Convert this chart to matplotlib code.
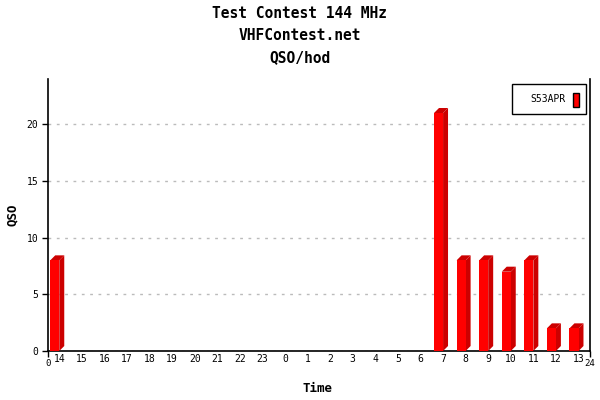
import matplotlib
matplotlib.use('Agg')
import matplotlib.pyplot as plt
import matplotlib.patches as patches
import numpy as np

plt.rcParams['font.family'] = ['DejaVu Sans Mono']

# data
hours = ['14', '15', '16', '17', '18', '19', '20', '21', '22', '23',
         '0', '1', '2', '3', '4', '5', '6', '7', '8', '9', '10', '11', '12', '13']
qso = [8, 0, 0, 0, 0, 0, 0, 0, 0, 0,
       0, 0, 0, 0, 0, 0, 0, 21, 8, 8, 7, 8, 2, 2]
station = 'S53APR'

fig = plt.figure(figsize=(6, 4), dpi=100)
ax = fig.add_axes([0.08, 0.1225, 0.903, 0.68])

front = '#ff0000'
side = '#cc0000'
dx, dy = 0.22, 0.44  # 3d depth in data units

x = np.arange(len(hours))
for i, v in zip(x, qso):
    if v <= 0:
        continue
    x0 = i + 0.1
    x1 = x0 + 0.4
    # side face
    ax.fill([x1, x1 + dx, x1 + dx, x1], [0, dy, v + dy, v], color=side, lw=0, zorder=3)
    # top face
    ax.fill([x0, x0 + dx, x1 + dx, x1], [v, v + dy, v + dy, v], color=side, lw=0, zorder=3)
    # front
    ax.bar(x0, v, width=0.4, align='edge', color=front, lw=0, zorder=4)

ax.set_xlim(0, 24)
ax.set_ylim(0, 24)

ax.yaxis.grid(True, linestyle=(0, (2, 4)), color='#bbbbbb', lw=1)
ax.set_axisbelow(True)
ax.set_yticks([0, 5, 10, 15, 20])
ax.tick_params(axis='y', direction='out', length=4, width=1, labelsize=7, pad=3)

ax.set_xticks([0, 24])
ax.set_xticklabels(['0', '24'], fontsize=6.5)
ax.tick_params(axis='x', which='major', direction='out', length=4, width=1, pad=2)
ax.set_xticks(x + 0.5, minor=True)
ax.set_xticklabels(hours, minor=True, fontsize=7)
ax.tick_params(axis='x', which='minor', length=0, pad=2)

ax.spines['top'].set_visible(False)
for s in ['left', 'bottom', 'right']:
    ax.spines[s].set_linewidth(1.2)

ax.set_xlabel('Time', fontsize=9, fontweight='bold')
ax.xaxis.set_label_coords(0.497, -0.115)
ax.set_ylabel('QSO', fontsize=9, fontweight='bold')
ax.yaxis.set_label_coords(-0.053, 0.5)

fig.text(0.5, 1 - 14 / 400, 'Test Contest 144 MHz', ha='center', va='center',
         fontsize=10.5, fontweight='bold')
fig.text(0.5, 1 - 36 / 400, 'VHFContest.net', ha='center', va='center',
         fontsize=10.5, fontweight='bold')
fig.text(0.5, 1 - 58 / 400, 'QSO/hod', ha='center', va='center',
         fontsize=10.5, fontweight='bold')

# legend box
lg = patches.Rectangle((512 / 600, 1 - 114 / 400), 74 / 600, 30 / 400,
                       transform=fig.transFigure, fill=False, edgecolor='black', lw=1)
fig.patches.append(lg)
fig.text(548 / 600, 1 - 99 / 400, station, ha='center', va='center', fontsize=7)
mk = patches.Rectangle((573 / 600, 1 - 107 / 400), 6 / 600, 14 / 400,
                       transform=fig.transFigure, facecolor=front, edgecolor='black', lw=1)
fig.patches.append(mk)

fig.savefig('out.png', dpi=100)
